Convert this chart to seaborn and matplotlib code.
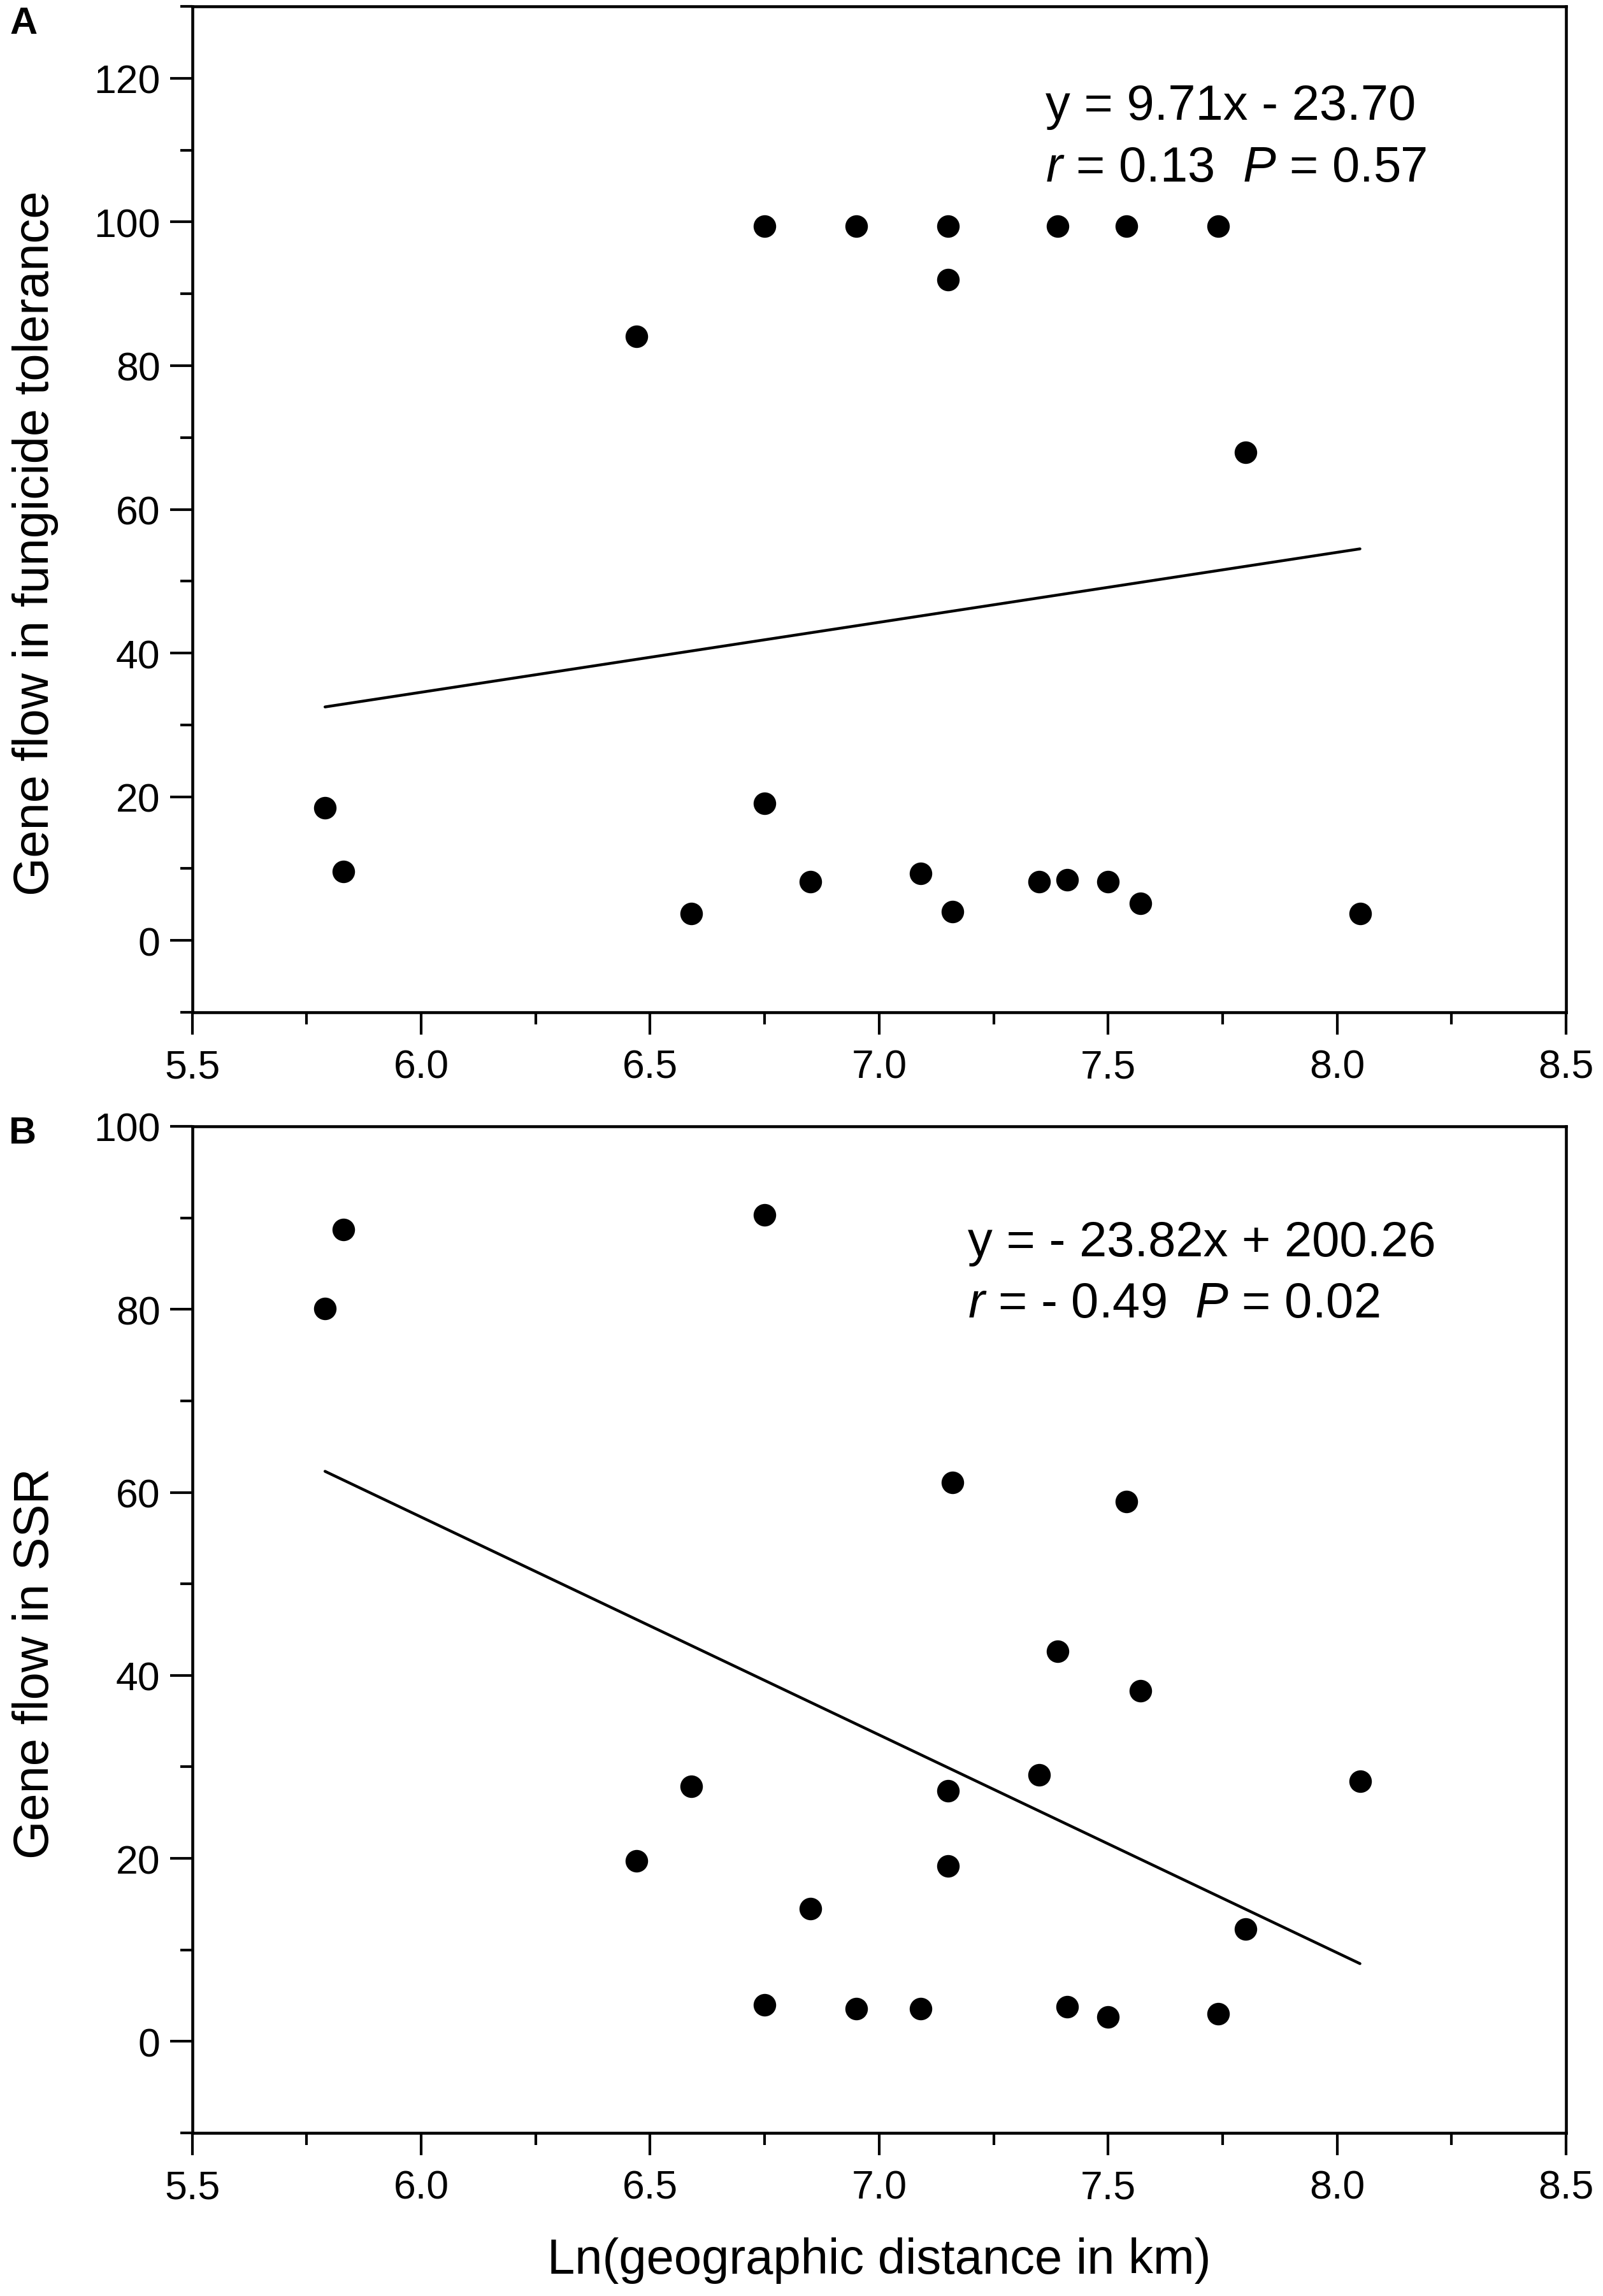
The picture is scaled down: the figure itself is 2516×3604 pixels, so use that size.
import pandas as pd
import seaborn as sns
import matplotlib.pyplot as plt
from matplotlib.ticker import MultipleLocator, FormatStrFormatter

# Ln(geographic distance) of each population pair
dist_a = [5.79, 5.83, 6.47, 6.59, 6.75, 6.75, 6.85, 6.95, 7.09, 7.15, 7.15,
          7.16, 7.35, 7.39, 7.41, 7.50, 7.54, 7.57, 7.74, 7.80, 8.05]
flow_fungicide = [18.5, 9.6, 84.1, 3.7, 99.4, 19.1, 8.2, 99.4, 9.3, 99.4, 92.0,
                  4.0, 8.2, 99.4, 8.4, 8.2, 99.4, 5.2, 99.4, 67.9, 3.7]

dist_b = [5.79, 5.83, 6.47, 6.59, 6.75, 6.75, 6.85, 6.95, 7.09, 7.15, 7.15,
          7.16, 7.35, 7.39, 7.41, 7.50, 7.54, 7.57, 7.74, 7.80, 8.05]
flow_ssr = [80.1, 88.7, 19.7, 27.9, 90.3, 4.0, 14.5, 3.6, 3.6, 27.4, 19.2,
            61.1, 29.1, 42.6, 3.8, 2.7, 59.0, 38.3, 3.0, 12.3, 28.4]

# regression line end points
fit_x = [5.79, 8.05]
fit_a = [32.5, 54.5]
fit_b = [62.3, 8.5]

eq_a = ["y = 9.71x - 23.70", "$r$ = 0.13  $P$ = 0.57"]
eq_b = ["y = - 23.82x + 200.26", "$r$ = - 0.49  $P$ = 0.02"]

sns.set_style("ticks", {"axes.edgecolor": "black", "xtick.color": "black",
                        "ytick.color": "black", "text.color": "black",
                        "axes.labelcolor": "black"})
plt.rcParams['font.family'] = ['Liberation Sans', 'DejaVu Sans']
plt.rcParams['mathtext.fontset'] = 'custom'
plt.rcParams['mathtext.rm'] = 'Liberation Sans'
plt.rcParams['mathtext.it'] = 'Liberation Sans:italic'

W, H = 2516, 3605
fig = plt.figure(figsize=(W / 100, H / 100), dpi=100)

ax_a = fig.add_axes([301.7 / W, 1 - 1590 / H, 2156.3 / W, 1579 / H])
ax_b = fig.add_axes([301.7 / W, 1 - 3349 / H, 2156.3 / W, 1580 / H])

df_a = pd.DataFrame({"x": dist_a, "y": flow_fungicide})
df_b = pd.DataFrame({"x": dist_b, "y": flow_ssr})

panels = [
    (ax_a, df_a, fit_a, (-10, 130), "Gene flow in fungicide tolerance"),
    (ax_b, df_b, fit_b, (-10, 100), "Gene flow in SSR"),
]

for ax, df, fit_y, ylim, ylab in panels:
    sns.scatterplot(data=df, x="x", y="y", ax=ax, color="black", s=650,
                    linewidth=0, zorder=3)
    sns.lineplot(x=fit_x, y=fit_y, ax=ax, color="black", linewidth=3.2)
    ax.set_xlim(5.5, 8.5)
    ax.set_ylim(*ylim)
    ax.xaxis.set_major_locator(MultipleLocator(0.5))
    ax.xaxis.set_minor_locator(MultipleLocator(0.25))
    ax.xaxis.set_major_formatter(FormatStrFormatter('%.1f'))
    ax.yaxis.set_major_locator(MultipleLocator(20))
    ax.yaxis.set_minor_locator(MultipleLocator(10))
    ax.yaxis.set_major_formatter(FormatStrFormatter('%d'))
    ax.tick_params(axis='both', which='major', direction='out', length=25,
                   width=3, labelsize=45)
    ax.tick_params(axis='both', which='minor', direction='out', length=13.5,
                   width=3)
    ax.tick_params(axis='y', which='major', pad=11)
    ax.tick_params(axis='x', which='major', pad=16)
    ax.tick_params(top=False, right=False, which='both')
    for sp in ax.spines.values():
        sp.set_linewidth(3.3)
    ax.set_ylabel(ylab, fontsize=56)
    ax.yaxis.set_label_coords(-0.0973, 0.467)
    ax.set_xlabel("")

ax_b.set_xlabel("Ln(geographic distance in km)", fontsize=56)
ax_b.xaxis.set_label_coords(0.5, -0.103)

# equations
fig.text(1641 / W, 1 - 188 / H, eq_a[0], fontsize=56, va='baseline')
fig.text(1641 / W, 1 - 285 / H, eq_a[1], fontsize=56, va='baseline')
fig.text(1519 / W, 1 - 1972 / H, eq_b[0], fontsize=56, va='baseline')
fig.text(1519 / W, 1 - 2068 / H, eq_b[1], fontsize=56, va='baseline')

# panel letters
fig.text(16 / W, 1 - 53 / H, "A", fontsize=43, fontweight='bold', va='baseline')
fig.text(14 / W, 1 - 1795 / H, "B", fontsize=43, fontweight='bold', va='baseline')

fig.savefig("out.png", dpi=100, facecolor="white")
